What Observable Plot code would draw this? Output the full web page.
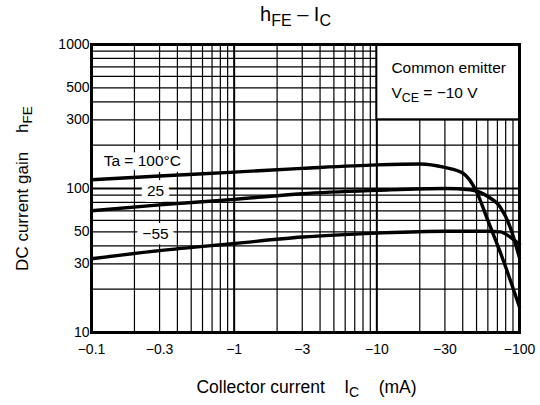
<!DOCTYPE html>
<html>
<head>
<meta charset="utf-8">
<script src="https://cdn.jsdelivr.net/npm/d3@7"></script>
<script src="https://cdn.jsdelivr.net/npm/@observablehq/plot@0.6"></script>
<style>
  html, body { margin: 0; padding: 0; background: #fff; }
  #chart { width: 540px; height: 405px; }
</style>
</head>
<body>
<div id="chart"></div>
<script>
// ---- data ----
const xTicks = [0.1, 0.3, 1, 3, 10, 30, 100];
const yTicks = [10, 30, 50, 100, 300, 500, 1000];
const xGridMinor = [0.2,0.3,0.4,0.5,0.6,0.7,0.8,0.9, 2,3,4,5,6,7,8,9, 20,30,40,50,60,70,80,90];
const xGridMajor = [1, 10];
const yGridMinor = [20,30,40,50,60,70,80,90, 200,300,400,500,600,700,800,900];
const yGridMajor = [100];

const ic100  = [0.1, 0.3, 1, 3, 10, 20, 30, 40, 50, 60, 75, 100];
const hfe100 = [115, 122, 130, 138, 146, 148, 140, 128, 95, 60, 34, 15];

const ic25   = [0.1, 0.3, 1, 3, 10, 30, 45, 60, 73.5, 86, 100];
const hfe25  = [70, 77, 84, 92, 97, 100, 98, 88, 74, 54, 33];

const icM55  = [0.1, 0.3, 1, 3, 10, 30, 60, 73.5, 86, 100];
const hfeM55 = [32.5, 37, 41.5, 46, 49, 50.5, 50.5, 50, 46, 41];

const curveLabels = ["Ta = 100°C", "25", "−55"];
const curveLabelX = [0.227, 0.281, 0.281];
const curveLabelY = [154, 95.3, 48];

const boxX = [10, 100];
const boxY = [300, 1000];
const boxLines = ["Common emitter", "V{CE} = −10 V"];
const boxLineX = [12.65, 12.65];
const boxLineY = [681, 457];

const titleText = "h{FE} – I{C}";
const xLabelText = "Collector current    I{C}    (mA)";
const yLabelText = "DC current gain    h{FE}";

// ---- build tables ----
const series = [
  ...ic100.map((x, i) => ({x, y: hfe100[i], s: "100"})),
  ...ic25.map((x, i) => ({x, y: hfe25[i], s: "25"})),
  ...icM55.map((x, i) => ({x, y: hfeM55[i], s: "-55"}))
];
const labels = curveLabels.map((t, i) => ({t, x: curveLabelX[i], y: curveLabelY[i]}));
const box = [{x1: boxX[0], x2: boxX[1], y1: boxY[0], y2: boxY[1]}];
const boxText = boxLines.map((t, i) => ({t, x: boxLineX[i], y: boxLineY[i]}));

const font = "Arial, 'Liberation Sans', Helvetica, sans-serif";

const chart = Plot.plot({
  width: 540,
  height: 405,
  marginLeft: 91,
  marginRight: 21,
  marginTop: 44,
  marginBottom: 73,
  style: {fontFamily: font, fontSize: "14px", background: "#fff", color: "#000"},
  x: {type: "log", domain: [0.1, 100], label: null, axis: null},
  y: {type: "log", domain: [10, 1000], label: null, axis: null},
  marks: [
    Plot.ruleX(xGridMinor, {stroke: "#000", strokeWidth: 1.2}),
    Plot.ruleY(yGridMinor, {stroke: "#000", strokeWidth: 1.2}),
    Plot.ruleX(xGridMajor, {stroke: "#000", strokeWidth: 2}),
    Plot.ruleY(yGridMajor, {stroke: "#000", strokeWidth: 2}),
    Plot.rect(box, {x1: "x1", x2: "x2", y1: "y1", y2: "y2", fill: "#fff", stroke: "#000", strokeWidth: 2}),
    Plot.text(boxText, {x: "x", y: "y", text: "t", textAnchor: "start", fontSize: 15.5, fill: "#000"}),
    Plot.line(series, {x: "x", y: "y", z: "s", stroke: "#000", strokeWidth: 3.4, curve: "monotone-x"}),
    Plot.text(labels, {x: "x", y: "y", text: "t", fontSize: 15.5, fill: "#000", stroke: "#fff", strokeWidth: 12}),
    Plot.frame({stroke: "#000", strokeWidth: 3}),
    // tick labels, positioned by the scales
    Plot.text(xTicks, {x: d => d, frameAnchor: "bottom", lineAnchor: "middle", textAnchor: "middle", dy: 17, text: d => "−" + d, fontSize: 14, fill: "#000"}),
    Plot.text(yTicks, {y: d => d, frameAnchor: "left", lineAnchor: "middle", textAnchor: "end", dx: -2, text: d => String(d), fontSize: 14, fill: "#000"}),
    // titles
    Plot.text([titleText], {text: d => d, frameAnchor: "top", lineAnchor: "middle", textAnchor: "middle", dy: -30, dx: -10, fontSize: 20, fill: "#000"}),
    Plot.text([xLabelText], {text: d => d, frameAnchor: "bottom", lineAnchor: "middle", textAnchor: "middle", dy: 55, dx: 1, fontSize: 17.5, fill: "#000"}),
    Plot.text([yLabelText], {text: d => d, frameAnchor: "left", lineAnchor: "middle", textAnchor: "middle", dx: -69, rotate: -90, fontSize: 17, fill: "#000"})
  ]
});

document.getElementById("chart").appendChild(chart);

// subscript handling: text in {braces} becomes a lowered, smaller tspan
const NS = "http://www.w3.org/2000/svg";
chart.querySelectorAll("text").forEach(t => {
  const s = t.textContent;
  if (!s.includes("{")) return;
  while (t.firstChild) t.removeChild(t.firstChild);
  let wasSub = false;
  s.split(/(\{[^}]*\})/).forEach(p => {
    if (!p) return;
    const ts = document.createElementNS(NS, "tspan");
    if (p.startsWith("{")) {
      ts.textContent = p.slice(1, -1);
      ts.setAttribute("font-size", "0.8em");
      ts.setAttribute("dy", "0.3em");
      wasSub = true;
    } else {
      ts.textContent = p;
      if (wasSub) ts.setAttribute("dy", "-0.24em");
      wasSub = false;
    }
    t.appendChild(ts);
  });
});
</script>
</body>
</html>
